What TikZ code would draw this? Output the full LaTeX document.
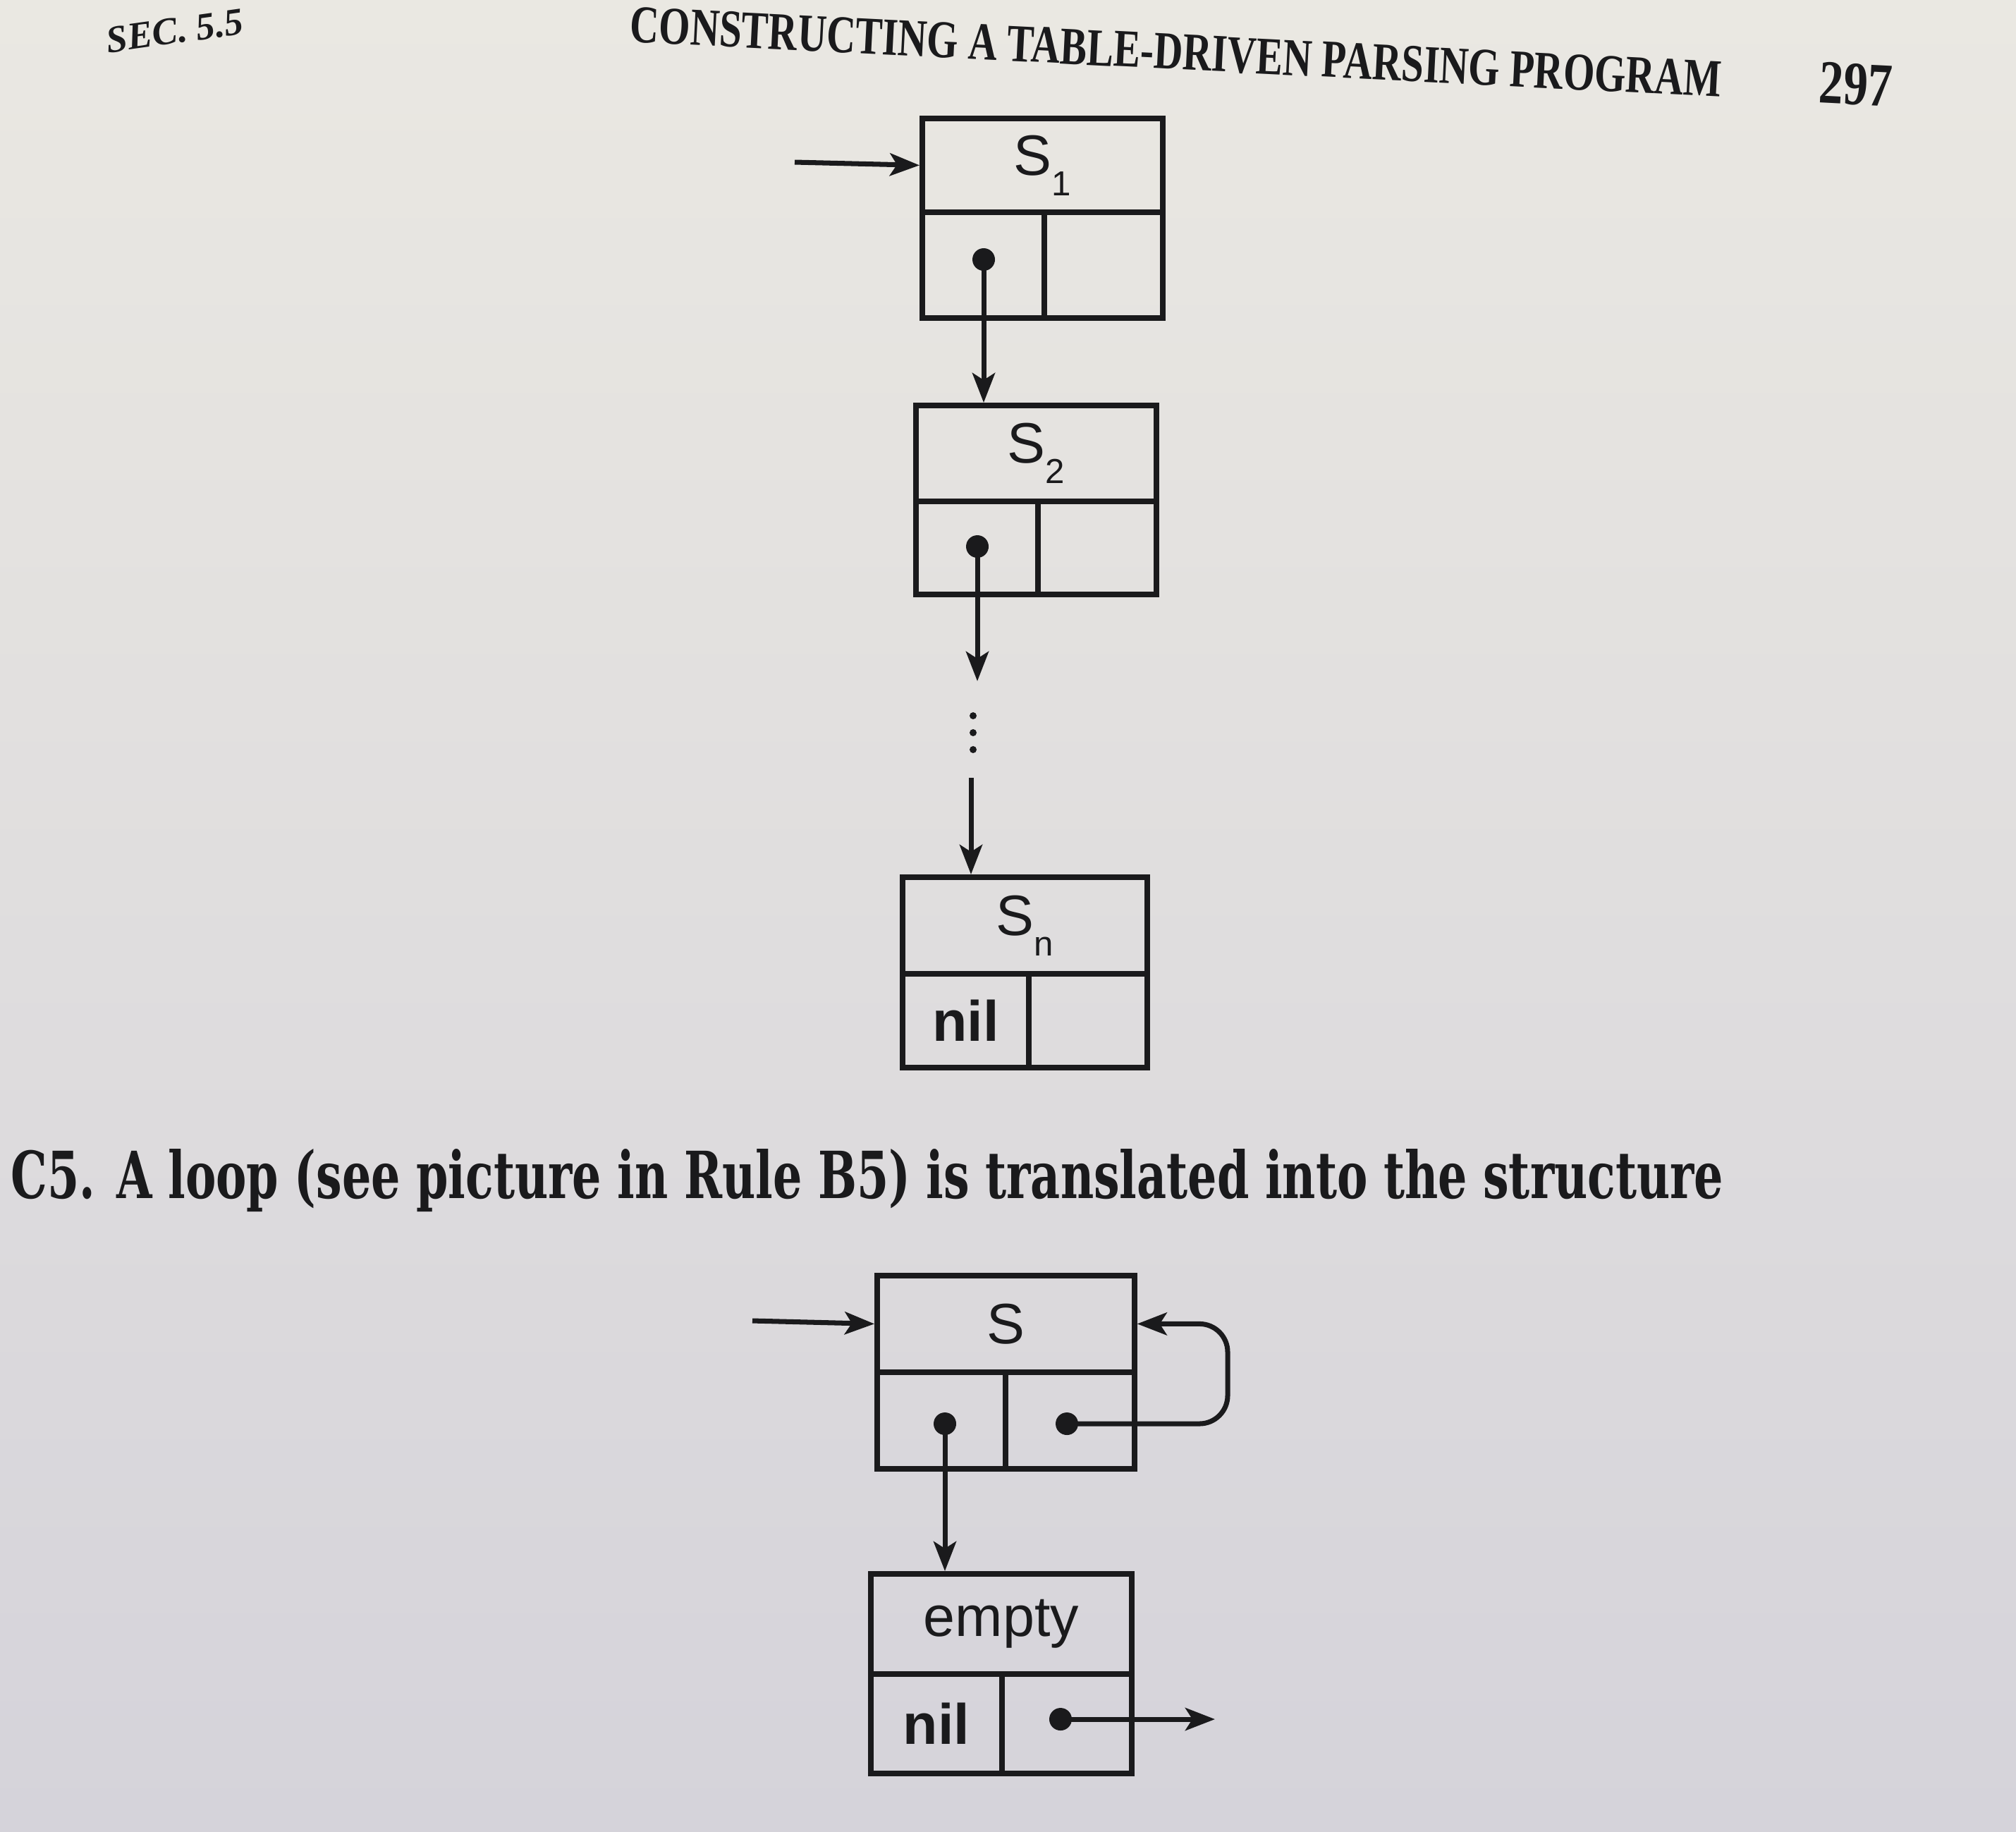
\documentclass[tikz,border=0pt]{standalone}
\usepackage{fontspec}
\setmainfont{Liberation Serif}
\setsansfont{Liberation Sans}
\newfontfamily\capfont{DejaVu Serif Condensed}
\newfontfamily\lblfont{Liberation Sans}
\newfontfamily\headfont{Liberation Serif}
\usetikzlibrary{arrows.meta}
\definecolor{ink}{RGB}{26,26,28}
\definecolor{papertop}{RGB}{234,232,226}
\definecolor{paperbot}{RGB}{213,211,218}
\newcommand{\lbl}[2]{#1\raisebox{-0.36em}{\fontsize{14}{14}\selectfont #2}}
\begin{document}
\begin{tikzpicture}[
  cell/.style={draw=ink, line width=2.2pt, rectangle, inner sep=0pt, anchor=north west,
               font=\lblfont\fontsize{23}{23}\selectfont, text=ink},
  ptr/.style={circle, fill=ink, minimum size=0.32cm, inner sep=0pt},
  arr/.style={draw=ink, line width=2pt, -{Stealth[length=0.42cm,width=0.32cm,inset=0.10cm]}},
]
\shade[top color=papertop, bottom color=paperbot] (0,0) rectangle (28.59,-25.97);
\useasboundingbox (0,0) rectangle (28.59,-25.97);

% header
\node[rotate=8, text=ink] (sec) at (2.48,-0.44) {\resizebox{1.95cm}{0.36cm}{\headfont\bfseries\itshape SEC. 5.5}};
\node[rotate=-2.9, text=ink] (head) at (16.68,-0.74) {\resizebox{15.5cm}{0.50cm}{\headfont\bfseries CONSTRUCTING A TABLE-DRIVEN PARSING PROGRAM}};
\node[rotate=-2.9, text=ink] (page) at (26.32,-1.20) {\resizebox{1.04cm}{0.58cm}{\headfont\bfseries 297}};

% record S1
\node[cell, minimum width=3.41cm, minimum height=1.33cm] (s1t) at (13.04,-1.64) {\lbl{S}{1}};
\node[cell, minimum width=1.73cm, minimum height=1.50cm] (s1l) at (13.04,-2.97) {};
\node[cell, minimum width=1.68cm, minimum height=1.50cm] (s1r) at (14.77,-2.97) {};
\node[ptr] (s1p) at (13.95,-3.68) {};
\coordinate (in1) at (11.27,-2.30);
\draw[arr] (in1) -- (s1t.west);

% record S2
\node[cell, minimum width=3.41cm, minimum height=1.36cm] (s2t) at (12.95,-5.71) {\lbl{S}{2}};
\node[cell, minimum width=1.73cm, minimum height=1.32cm] (s2l) at (12.95,-7.07) {};
\node[cell, minimum width=1.68cm, minimum height=1.32cm] (s2r) at (14.68,-7.07) {};
\node[ptr] (s2p) at (13.86,-7.75) {};
\draw[arr] (s1p.center) -- (s1p |- s2t.north);

\coordinate (e2) at (13.86,-9.66);
\draw[arr] (s2p.center) -- (e2);
\fill[ink] (13.80,-10.15) circle (0.05);
\fill[ink] (13.80,-10.39) circle (0.05);
\fill[ink] (13.80,-10.63) circle (0.05);
\coordinate (b3) at (13.77,-11.03);

% record Sn
\node[cell, minimum width=3.47cm, minimum height=1.37cm] (snt) at (12.76,-12.40) {\lbl{S}{n}};
\node[cell, minimum width=1.79cm, minimum height=1.33cm] (snl) at (12.76,-13.77) {\bfseries nil};
\node[cell, minimum width=1.68cm, minimum height=1.33cm] (snr) at (14.55,-13.77) {};
\draw[arr] (b3) -- (b3 |- snt.north);

% caption
\node[anchor=base west, text=ink, inner sep=0pt] (cap) at (0.15,-16.99)
  {\resizebox{24.28cm}{0.70cm}{\capfont\bfseries C5. A loop (see picture in Rule B5) is translated into the structure}};

% record S (loop)
\node[cell, minimum width=3.65cm, minimum height=1.37cm] (st) at (12.40,-18.05) {S};
\node[cell, minimum width=1.82cm, minimum height=1.37cm] (sl) at (12.40,-19.42) {};
\node[cell, minimum width=1.83cm, minimum height=1.37cm] (sr) at (14.22,-19.42) {};
\node[ptr] (sdl) at (13.40,-20.19) {};
\node[ptr] (sdr) at (15.13,-20.19) {};
\coordinate (in2) at (10.67,-18.73);
\draw[arr] (in2) -- (st.west);
\coordinate (loopx) at (17.41,-19.50);
\draw[arr, rounded corners=0.4cm] (sdr.center) -- (sdr -| loopx) -- (st.east -| loopx) -- (st.east);

% record empty
\node[cell, minimum width=3.70cm, minimum height=1.42cm] (et) at (12.31,-22.28) {empty};
\node[cell, minimum width=1.86cm, minimum height=1.41cm] (el) at (12.31,-23.70) {\bfseries nil};
\node[cell, minimum width=1.84cm, minimum height=1.41cm] (er) at (14.17,-23.70) {};
\node[ptr] (edr) at (15.04,-24.38) {};
\draw[arr] (sdl.center) -- (sdl |- et.north);
\coordinate (eout) at (17.23,-24.38);
\draw[arr] (edr.center) -- (eout);
\end{tikzpicture}
\end{document}
